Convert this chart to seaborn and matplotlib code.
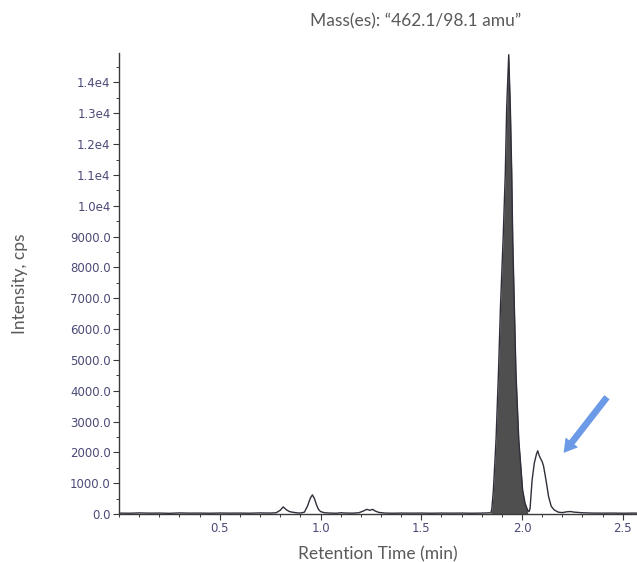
import matplotlib
matplotlib.use("Agg")
import matplotlib.pyplot as plt
from matplotlib.ticker import MultipleLocator, FixedLocator, FixedFormatter
import seaborn as sns
import pandas as pd

# Chromatogram trace for MRM transition 462.1 -> 98.1
retention_min = [
    0.00, 0.05, 0.10, 0.15, 0.20, 0.25, 0.30, 0.35, 0.40, 0.45, 0.50, 0.55,
    0.60, 0.65, 0.70, 0.75, 0.78, 0.80, 0.815, 0.83, 0.845, 0.86, 0.88, 0.90,
    0.92, 0.935, 0.95, 0.96, 0.97, 0.98, 0.99, 1.00, 1.02, 1.05, 1.08, 1.10,
    1.13, 1.16, 1.19, 1.21, 1.23, 1.245, 1.26, 1.27, 1.29, 1.32, 1.36, 1.40,
    1.45, 1.50, 1.55, 1.60, 1.65, 1.70, 1.75, 1.80, 1.83, 1.845, 1.850, 1.858,
    1.871, 1.883, 1.893, 1.906, 1.917, 1.924, 1.934, 1.942, 1.949, 1.954,
    1.962, 1.970, 1.984, 2.003, 2.015, 2.028, 2.035, 2.040, 2.050, 2.061,
    2.072, 2.078, 2.085, 2.092, 2.100, 2.107, 2.119, 2.132, 2.145, 2.160,
    2.18, 2.20, 2.22, 2.24, 2.26, 2.28, 2.30, 2.35, 2.40, 2.45, 2.50, 2.55, 2.57,
]
intensity_cps = [
    30, 25, 35, 28, 30, 22, 35, 28, 30, 25, 32, 28,
    30, 26, 35, 30, 40, 120, 230, 140, 80, 60, 40, 30,
    60, 250, 520, 620, 500, 300, 150, 80, 40, 30, 25, 40,
    30, 28, 40, 90, 150, 120, 150, 100, 50, 30, 25, 30,
    28, 30, 25, 30, 28, 30, 25, 30, 35, 40, 150, 780,
    2400, 4570, 6720, 8880, 11050, 13200, 14900, 13200, 11050, 8880,
    6720, 4570, 2400, 780, 350, 120, 80, 180, 1100, 1650,
    1950, 2050, 1900, 1800, 1700, 1550, 1100, 560, 250, 130,
    60, 45, 70, 80, 60, 50, 40, 30, 28, 30, 25, 30, 28,
]

# Integrated window of the main peak (min)
main_peak_start = 1.845
main_peak_end = 2.028

y_tick_values = [0, 1000, 2000, 3000, 4000, 5000, 6000, 7000, 8000, 9000,
                 10000, 11000, 12000, 13000, 14000]
y_tick_labels = ["0.0", "1000.0", "2000.0", "3000.0", "4000.0", "5000.0",
                 "6000.0", "7000.0", "8000.0", "9000.0", "1.0e4", "1.1e4",
                 "1.2e4", "1.3e4", "1.4e4"]
x_tick_values = [0.5, 1.0, 1.5, 2.0, 2.5]
x_tick_labels = ["0.5", "1.0", "1.5", "2.0", "2.5"]

title_text = "Mass(es): \u201c462.1/98.1 amu\u201d"
x_label = "Retention Time (min)"
y_label = "Intensity, cps"

df = pd.DataFrame({"rt": retention_min, "intensity": intensity_cps})

sns.set_theme(style="white")
plt.rcParams["font.family"] = ["DejaVu Sans"]

fig = plt.figure(figsize=(6.37, 5.62), dpi=100)
ax = fig.add_axes([0.1868, 0.0854, 0.813, 0.820])

trace_color = "#2f2f3a"
sns.lineplot(data=df, x="rt", y="intensity", color=trace_color,
             linewidth=1.0, ax=ax, sort=True)

mask = (df["rt"] >= main_peak_start) & (df["rt"] <= main_peak_end)
ax.fill_between(df["rt"][mask], 0, df["intensity"][mask],
                color="#4f4f4f", linewidth=0)

ax.set_xlim(0, 2.57)
ax.set_ylim(0, 14950)

for side in ("top", "right"):
    ax.spines[side].set_visible(False)
for side in ("left", "bottom"):
    ax.spines[side].set_color("#3a3a3a")
    ax.spines[side].set_linewidth(1.0)

tick_color = "#4a4a78"
ax.yaxis.set_major_locator(FixedLocator(y_tick_values))
ax.yaxis.set_major_formatter(FixedFormatter(y_tick_labels))
ax.yaxis.set_minor_locator(MultipleLocator(500))
ax.xaxis.set_major_locator(FixedLocator(x_tick_values))
ax.xaxis.set_major_formatter(FixedFormatter(x_tick_labels))
ax.xaxis.set_minor_locator(MultipleLocator(0.1))

ax.tick_params(axis="both", which="major", direction="out", length=4,
               width=0.8, color="#3a3a3a", labelsize=8.5,
               labelcolor=tick_color, pad=2, left=True, bottom=True)
ax.tick_params(axis="both", which="minor", direction="out", length=2.5,
               width=0.7, color="#3a3a3a", left=True, bottom=True)

label_font = dict(family=["Lato", "DejaVu Sans"], size=12.5, color="#5a5a5a")
ax.set_xlabel(x_label, labelpad=8, **label_font)
ax.set_ylabel(y_label, labelpad=30, **label_font)
fig.text(0.652, 0.962, title_text, ha="center", va="center", **label_font)

# Arrow pointing at the later-eluting peak
ax.annotate("", xy=(2.198, 1910), xytext=(2.43, 3860),
            arrowprops=dict(arrowstyle="simple,head_length=0.8,head_width=0.95,tail_width=0.4",
                            color="#6c9ae6", linewidth=0))

fig.savefig("out.png", dpi=100)
